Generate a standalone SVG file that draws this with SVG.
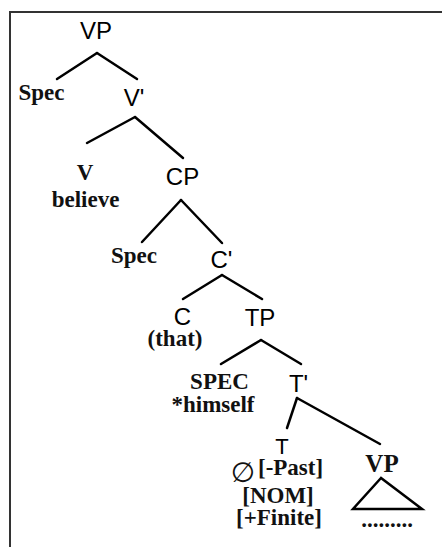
<svg xmlns="http://www.w3.org/2000/svg" width="442" height="547" viewBox="0 0 442 547">
<style>
.sans{font-family:"Liberation Sans",Arial,sans-serif;font-size:24px;fill:#000;text-anchor:middle}
.serif{font-family:"Liberation Serif","Times New Roman",serif;font-size:23px;font-weight:bold;fill:#111;text-anchor:middle}
.edge{stroke:#000;stroke-width:2.5;fill:none;stroke-linecap:round}
</style>
<rect width="442" height="547" fill="#fff"/>
<path d="M10,547 V12 H442" fill="none" stroke="#333" stroke-width="2"/>
<g id="connectors">
<line class="edge" x1="97" y1="53" x2="57" y2="79"/>
<line class="edge" x1="97" y1="53" x2="137" y2="79"/>
<line class="edge" x1="135" y1="117" x2="87" y2="143"/>
<line class="edge" x1="135" y1="117" x2="183" y2="158"/>
<line class="edge" x1="181" y1="200" x2="142" y2="242"/>
<line class="edge" x1="181" y1="200" x2="222" y2="243"/>
<line class="edge" x1="222" y1="275" x2="183" y2="299"/>
<line class="edge" x1="222" y1="275" x2="262" y2="299"/>
<line class="edge" x1="261" y1="340" x2="221" y2="364"/>
<line class="edge" x1="261" y1="340" x2="301" y2="364"/>
<line class="edge" x1="297" y1="398" x2="287" y2="428"/>
<line class="edge" x1="297" y1="398" x2="380" y2="444"/>
</g>
<g id="n-vp"><text class="sans" x="96" y="39">VP</text></g>
<g id="n-spec1"><text class="serif" x="41.5" y="100">Spec</text></g>
<g id="n-vbar"><text class="sans" x="134" y="106">V'</text></g>
<g id="n-v"><text class="serif" x="85" y="180">V</text><text class="serif" x="85.5" y="207">believe</text></g>
<g id="n-cp"><text class="sans" x="182.5" y="185">CP</text></g>
<g id="n-spec2"><text class="serif" x="134" y="263">Spec</text></g>
<g id="n-cbar"><text class="sans" x="221.5" y="268">C'</text></g>
<g id="n-c"><text class="sans" x="182.5" y="325">C</text><text class="serif" x="175" y="346">(that)</text></g>
<g id="n-tp"><text class="sans" x="260" y="326">TP</text></g>
<g id="n-spec3"><text class="serif" x="219.5" y="389">SPEC</text><text class="serif" x="213" y="412">*himself</text></g>
<g id="n-tbar"><text class="sans" x="298.5" y="392">T'</text></g>
<g id="n-t">
<text class="sans" x="282" y="454" style="font-size:22px">T</text>
<text x="243" y="482" style="font-family:'DejaVu Sans',sans-serif;font-size:28px;text-anchor:middle;fill:#111">∅</text>
<text class="serif" x="258" y="475" style="text-anchor:start">[-Past]</text>
<text class="serif" x="278" y="503">[NOM]</text>
<text class="serif" x="279" y="525">[+Finite]</text>
</g>
<g id="n-vp2">
<text class="serif" x="382" y="472" style="font-size:25px">VP</text>
<polygon points="381,478 353,509 422,509" fill="none" stroke="#000" stroke-width="2.5" stroke-linejoin="miter"/>
<text class="serif" x="387" y="527">.........</text>
</g>
</svg>
